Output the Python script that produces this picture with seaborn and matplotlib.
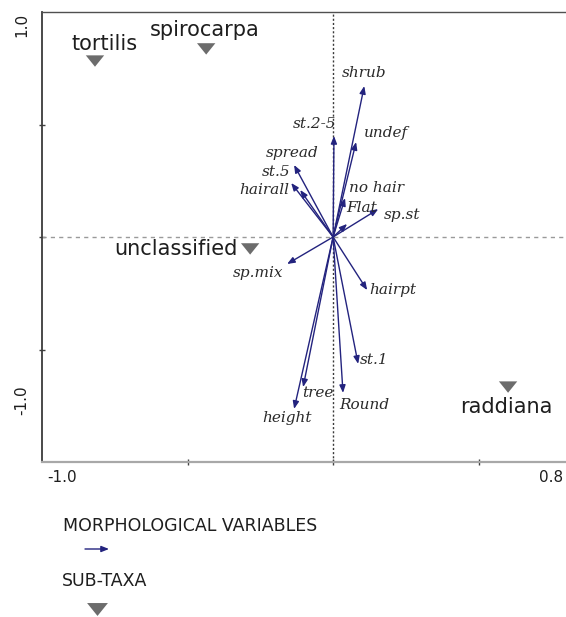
import matplotlib
matplotlib.use("Agg")
import matplotlib.pyplot as plt
from matplotlib.lines import Line2D
import seaborn as sns
import pandas as pd

# Sub-taxa scores on the first two ordination axes
taxa = ["tortilis", "spirocarpa", "unclassified", "raddiana"]
taxa_x = [-0.818, -0.436, -0.285, 0.601]
taxa_y = [0.782, 0.836, -0.053, -0.667]

# Morphological variable loadings (arrow tips)
variables = ["shrub", "st.2-5", "undef", "spread", "st.5", "hairall", "no hair",
             "Flat", "sp.st", "sp.mix", "hairpt", "st.1", "Round", "tree", "height"]
var_x = [0.107, 0.003, 0.079, -0.134, -0.144, -0.113, 0.041,
         0.048, 0.155, -0.158, 0.117, 0.086, 0.034, -0.103, -0.134]
var_y = [0.671, 0.449, 0.422, 0.320, 0.240, 0.209, 0.173,
         0.058, 0.124, -0.120, -0.236, -0.564, -0.693, -0.667, -0.764]

# Axis extent and end labels
x_limits = [-1.0, 0.8]
y_limits = [-1.0, 1.0]
x_end_labels = ["-1.0", "0.8"]
y_end_labels = ["-1.0", "1.0"]

legend_titles = ["MORPHOLOGICAL VARIABLES", "SUB-TAXA"]

taxa_df = pd.DataFrame({"taxon": taxa, "x": taxa_x, "y": taxa_y})
var_df = pd.DataFrame({"variable": variables, "x": var_x, "y": var_y})

# label placement around each arrow tip (pixels)
var_label_offset = {
    "shrub": (0, 13), "st.2-5": (-19, 12), "undef": (30, 9), "spread": (-2, 12),
    "st.5": (-15, 11), "hairall": (-36, 0), "no hair": (31, 10), "Flat": (15, 16),
    "sp.st": (24, -6), "sp.mix": (-29, -9), "hairpt": (26, 0), "st.1": (16, 4),
    "Round": (21, -12), "tree": (15, -6), "height": (-7, -9),
}
taxa_label_offset = {
    "tortilis": (10, 17, "center"), "spirocarpa": (-1, 19, "center"),
    "unclassified": (-13, 0, "right"), "raddiana": (-2, -20, "center"),
}

sns.set_style("white")
plt.rcParams["font.family"] = ["DejaVu Sans"]

NAVY = "#23237e"
TRI_GREY = "#6c6c6c"
TEXT = "#1e1e1e"
tri_marker = [(-1.0, 0.62), (1.0, 0.62), (0.0, -0.62)]

W, H = 566, 617
fig = plt.figure(figsize=(W / 100, H / 100), dpi=100)
ax = fig.add_axes([42 / W, 155 / H, (W - 42) / W, 450 / H])
ax.set_xlim(*x_limits)
ax.set_ylim(*y_limits)

# reference lines through the origin
ax.axvline(0, color="#3a3a3a", lw=1.0, ls=(0, (1.5, 1.5)), zorder=1)
ax.axhline(0, color="#9a9a9a", lw=1.0, ls=(0, (3, 3)), zorder=1)

# variable arrows
for _, r in var_df.iterrows():
    ax.annotate("", xy=(r.x, r.y), xytext=(0, 0),
                arrowprops=dict(arrowstyle="-|>,head_length=0.45,head_width=0.18",
                                color=NAVY, lw=1.0, shrinkA=0, shrinkB=0),
                zorder=3)
    dx, dy = var_label_offset[r.variable]
    ax.annotate(r.variable, xy=(r.x, r.y), xytext=(dx, dy), textcoords="offset pixels",
                ha="center", va="center", fontsize=11, fontstyle="italic",
                family="DejaVu Serif", color="#2a2a2a", zorder=4)

# sub-taxa markers
sns.scatterplot(data=taxa_df, x="x", y="y", marker=tri_marker, s=175,
                color=TRI_GREY, edgecolor="none", linewidth=0, ax=ax, zorder=5,
                legend=False)
for _, r in taxa_df.iterrows():
    dx, dy, ha = taxa_label_offset[r.taxon]
    ax.annotate(r.taxon, xy=(r.x, r.y), xytext=(dx, dy), textcoords="offset pixels",
                ha=ha, va="center", fontsize=15, color=TEXT, zorder=6)

# frame and ticks
ax.set_xlabel("")
ax.set_ylabel("")
ax.set_xticks([-0.5, 0, 0.5])
ax.set_yticks([-0.5, 0, 0.5])
ax.tick_params(axis="both", direction="inout", length=5, width=1.0, color="#404040",
               labelbottom=False, labelleft=False, bottom=True, left=True)
ax.spines["right"].set_visible(False)
ax.spines["left"].set_color("#3c3c3c")
ax.spines["left"].set_linewidth(1.3)
ax.spines["top"].set_color("#505050")
ax.spines["top"].set_linewidth(1.0)
ax.spines["bottom"].set_color("#a8a8a8")
ax.spines["bottom"].set_linewidth(1.6)

# axis end labels
fig.text(47 / W, 1 - 478 / H, x_end_labels[0], ha="left", va="center",
         fontsize=11, color=TEXT)
fig.text(563 / W, 1 - 478 / H, x_end_labels[1], ha="right", va="center",
         fontsize=11, color=TEXT)
fig.text(22 / W, 1 - 25 / H, y_end_labels[1], ha="center", va="center",
         rotation=90, fontsize=11, color=TEXT)
fig.text(22 / W, 1 - 400 / H, y_end_labels[0], ha="center", va="center",
         rotation=90, fontsize=11, color=TEXT)

# key below the plot
fig.text(63 / W, 1 - 526 / H, legend_titles[0], ha="left", va="center",
         fontsize=12.5, color=TEXT)
fig.add_artist(matplotlib.patches.FancyArrowPatch(
    (85 / W, 1 - 549 / H), (109 / W, 1 - 549 / H), transform=fig.transFigure,
    arrowstyle="-|>,head_length=0.45,head_width=0.18", color=NAVY, lw=1.0,
    mutation_scale=10, shrinkA=0, shrinkB=0))
fig.text(62 / W, 1 - 581 / H, legend_titles[1], ha="left", va="center",
         fontsize=12.5, color=TEXT)
fig.add_artist(Line2D([97 / W], [1 - 609 / H], transform=fig.transFigure,
                      marker=tri_marker, markersize=15, color=TRI_GREY, lw=0,
                      markeredgewidth=0))

fig.savefig("out.png", dpi=100)
